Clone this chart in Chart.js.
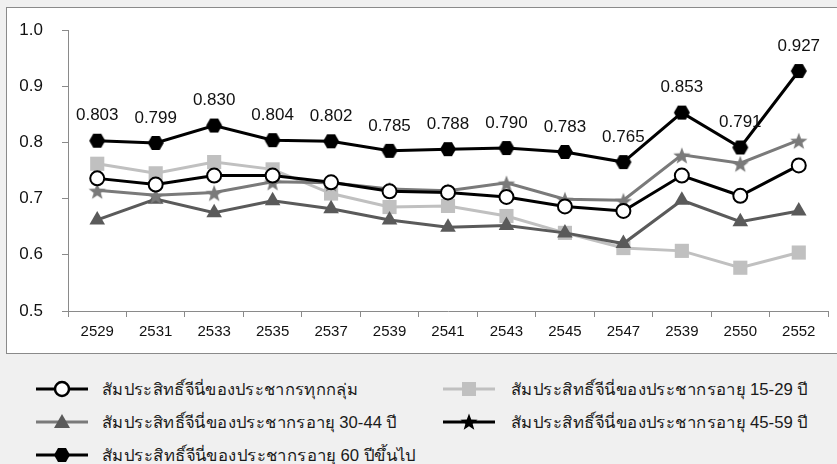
<!DOCTYPE html>
<html>
<head>
<meta charset="utf-8">
<script src="https://cdn.jsdelivr.net/npm/chart.js@4"></script>
<style>
  body { margin: 0; background: #f0f0f0; width: 837px; height: 464px; overflow: hidden; position: relative; font-family: "Liberation Sans", Arial, sans-serif; }
  #box { position: absolute; left: 6px; top: 7px; width: 840px; height: 345px; background: #fff; border: 1px solid #8a8a8a; }
  #wrap { position: absolute; left: 0; top: 0; width: 830px; height: 345px; }
  .leg { position: absolute; height: 20px; display: flex; align-items: center; font-size: 16px; color: #1a1a1a; white-space: nowrap; }
  .leg canvas { width: 52px; height: 20px; margin-right: 14px; }
  .leg span { display: inline-block; transform-origin: left center; font-weight: 300; }
</style>
</head>
<body>
<div id="box"><div id="wrap"><canvas id="c"></canvas></div></div>
<div id="legend"></div>
<script>
const years = ["2529","2531","2533","2535","2537","2539","2541","2543","2545","2547","2539","2550","2552"];

const allGroups = [0.736, 0.725, 0.741, 0.741, 0.729, 0.713, 0.711, 0.703, 0.686, 0.678, 0.741, 0.705, 0.759];
const age15to29 = [0.762, 0.745, 0.765, 0.752, 0.709, 0.685, 0.687, 0.669, 0.639, 0.612, 0.607, 0.577, 0.604];
const age30to44 = [0.662, 0.699, 0.675, 0.696, 0.682, 0.662, 0.649, 0.652, 0.639, 0.620, 0.697, 0.659, 0.678];
const age45to59 = [0.715, 0.706, 0.711, 0.730, 0.728, 0.717, 0.714, 0.728, 0.699, 0.697, 0.778, 0.763, 0.804];
const age60up   = [0.803, 0.799, 0.830, 0.804, 0.802, 0.785, 0.788, 0.790, 0.783, 0.765, 0.853, 0.791, 0.927];

const seriesNames = [
  "สัมประสิทธิ์จีนี่ของประชากรทุกกลุ่ม",
  "สัมประสิทธิ์จีนี่ของประชากรอายุ 15-29 ปี",
  "สัมประสิทธิ์จีนี่ของประชากรอายุ 30-44 ปี",
  "สัมประสิทธิ์จีนี่ของประชากรอายุ 45-59 ปี",
  "สัมประสิทธิ์จีนี่ของประชากรอายุ 60 ปีขึ้นไป"
];

const FONT = "'Liberation Sans', Arial, sans-serif";

// custom marker images
function makeHex(r, color) {
  const c = document.createElement("canvas");
  c.width = c.height = r * 2 + 2;
  const x = c.getContext("2d");
  x.fillStyle = color;
  x.beginPath();
  for (let i = 0; i < 6; i++) {
    const a = Math.PI / 3 * i;
    x.lineTo(r + 1 + r * Math.cos(a), r + 1 + r * Math.sin(a));
  }
  x.closePath();
  x.fill();
  return c;
}
function makeStar(r, color) {
  const c = document.createElement("canvas");
  c.width = c.height = r * 2 + 2;
  const x = c.getContext("2d");
  x.fillStyle = color;
  x.beginPath();
  for (let i = 0; i < 10; i++) {
    const rr = i % 2 ? r * 0.42 : r;
    const a = -Math.PI / 2 + Math.PI / 5 * i;
    x.lineTo(r + 1 + rr * Math.cos(a), r + 1 + 1.5 + rr * Math.sin(a));
  }
  x.closePath();
  x.fill();
  return c;
}

const hexImg = makeHex(8, "#000");
const starImg = makeStar(9, "#7a7a7a");

const valueLabels = {
  id: "valueLabels",
  afterDatasetsDraw(chart) {
    const ctx = chart.ctx;
    const meta = chart.getDatasetMeta(0);
    ctx.save();
    ctx.font = "17px " + FONT;
    ctx.fillStyle = "#111";
    ctx.textAlign = "center";
    ctx.textBaseline = "middle";
    meta.data.forEach((pt, i) => {
      ctx.fillText(age60up[i].toFixed(3), pt.x, pt.y - 25);
    });
    ctx.restore();
  }
};

new Chart(document.getElementById("c"), {
  type: "line",
  data: {
    labels: years,
    datasets: [
      { label: seriesNames[4], data: age60up, borderColor: "#000", borderWidth: 3, pointStyle: hexImg },
      { label: seriesNames[0], data: allGroups, borderColor: "#000", borderWidth: 3, pointStyle: "circle",
        pointRadius: 7, pointBackgroundColor: "#fff", pointBorderColor: "#000", pointBorderWidth: 2 },
      { label: seriesNames[3], data: age45to59, borderColor: "#7a7a7a", borderWidth: 3, pointStyle: starImg },
      { label: seriesNames[2], data: age30to44, borderColor: "#5a5a5a", borderWidth: 3, pointStyle: "triangle",
        pointRadius: 9, pointBackgroundColor: "#5a5a5a", pointBorderColor: "#5a5a5a", pointBorderWidth: 0 },
      { label: seriesNames[1], data: age15to29, borderColor: "#c0c0c0", borderWidth: 3, pointStyle: "rect",
        pointRadius: 10, pointBackgroundColor: "#c0c0c0", pointBorderColor: "#c0c0c0", pointBorderWidth: 0 }
    ]
  },
  options: {
    responsive: true,
    maintainAspectRatio: false,
    animation: false,
    elements: { line: { tension: 0 } },
    layout: { autoPadding: false, padding: { top: 22, right: 9, left: 0, bottom: 0 } },
    plugins: { legend: { display: false }, tooltip: { enabled: false } },
    scales: {
      x: {
        offset: true,
        grid: { display: true, drawOnChartArea: false, offset: true, tickLength: 6, color: "#8a8a8a" },
        border: { color: "#8a8a8a" },
        ticks: { color: "#111", font: { size: 15, family: FONT }, padding: 6, maxRotation: 0, autoSkip: false },
        afterFit(s) { s.height = 42; }
      },
      y: {
        min: 0.5, max: 1.0,
        grid: { display: true, drawOnChartArea: false, tickLength: 6, color: "#8a8a8a" },
        border: { color: "#8a8a8a" },
        ticks: { stepSize: 0.1, color: "#111", padding: 19, font: { size: 17, family: FONT },
          callback: v => v.toFixed(1) },
        afterFit(s) { s.width = 61; s.paddingTop = 10; s.paddingBottom = 10; }
      }
    }
  },
  plugins: [valueLabels]
});

// legend (positions and text end points)
const legendItems = [
  { name: seriesNames[0], x: 36, y: 389, end: 358, line: "#000", kind: "circle" },
  { name: seriesNames[2], x: 36, y: 422, end: 397, line: "#7a7a7a", kind: "triangle" },
  { name: seriesNames[4], x: 36, y: 455, end: 416, line: "#000", kind: "hex" },
  { name: seriesNames[1], x: 443, y: 389, end: 808, line: "#c0c0c0", kind: "rect" },
  { name: seriesNames[3], x: 443, y: 422, end: 808, line: "#000", kind: "star" }
];
const legendEl = document.getElementById("legend");
legendItems.forEach(it => {
  const d = document.createElement("div");
  d.className = "leg";
  d.style.left = it.x + "px";
  d.style.top = (it.y - 10) + "px";
  const cv = document.createElement("canvas");
  cv.width = 52; cv.height = 20;
  if (it.x > 400) cv.style.marginRight = "16px";
  const g = cv.getContext("2d");
  g.strokeStyle = it.line; g.lineWidth = 3;
  g.beginPath(); g.moveTo(0, 10); g.lineTo(52, 10); g.stroke();
  if (it.kind === "circle") {
    g.fillStyle = "#fff"; g.strokeStyle = "#000"; g.lineWidth = 2.5;
    g.beginPath(); g.arc(26, 10, 7, 0, Math.PI * 2); g.fill(); g.stroke();
  } else if (it.kind === "triangle") {
    g.fillStyle = "#5a5a5a";
    g.beginPath(); g.moveTo(26, 2); g.lineTo(34, 16); g.lineTo(18, 16); g.closePath(); g.fill();
  } else if (it.kind === "hex") {
    g.drawImage(hexImg, 26 - hexImg.width / 2, 10 - hexImg.height / 2);
  } else if (it.kind === "rect") {
    g.fillStyle = "#c0c0c0"; g.fillRect(19, 3, 14, 14);
  } else if (it.kind === "star") {
    const s = makeStar(9, "#000");
    g.drawImage(s, 26 - s.width / 2, 10 - s.height / 2 - 1);
  }
  d.appendChild(cv);
  const t = document.createElement("span");
  t.textContent = it.name;
  d.appendChild(t);
  legendEl.appendChild(d);
  const r = t.getBoundingClientRect();
  if (r.width > 0) t.style.transform = "scaleX(" + ((it.end - r.left) / r.width).toFixed(3) + ")";
});
</script>
</body>
</html>
